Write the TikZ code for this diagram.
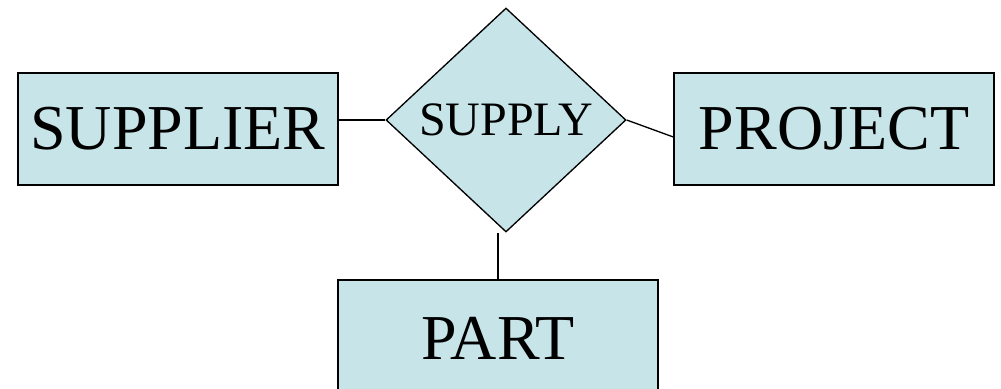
\documentclass[tikz,border=0pt]{standalone}
\usepackage{fontspec}
\setmainfont{Liberation Serif}
\usetikzlibrary{shapes.geometric}
\definecolor{boxfill}{RGB}{199,229,233}
\begin{document}
\begin{tikzpicture}[x=0.75pt,y=-0.75pt,
  entity/.style={draw=black,line width=1pt,fill=boxfill,minimum width=240pt,minimum height=84pt,inner sep=0pt,font=\fontsize{48}{50}\selectfont},
  relation/.style={draw=black,line width=1pt,fill=boxfill,diamond,minimum width=180pt,minimum height=168pt,inner sep=0pt,font=\fontsize{36}{38}\selectfont},
  conn/.style={draw=black,line width=1pt}]
\useasboundingbox (0,0) rectangle (1001,389);
\node[entity] (sup) at (178,129) {SUPPLIER};
\node[entity] (proj) at (834,129) {PROJECT};
\node[entity, minimum height=87pt] (part) at (498,338) {PART};
\node[relation] (rel) at (506,120) {SUPPLY};
\coordinate (pjin) at ([yshift=-6pt]proj.west);
\draw[conn] (rel.west) -- (rel.west -| sup.east);
\draw[conn] (rel.east) -- (pjin);
\draw[conn] (part.north) -- (part.north |- rel.south);
\end{tikzpicture}
\end{document}
